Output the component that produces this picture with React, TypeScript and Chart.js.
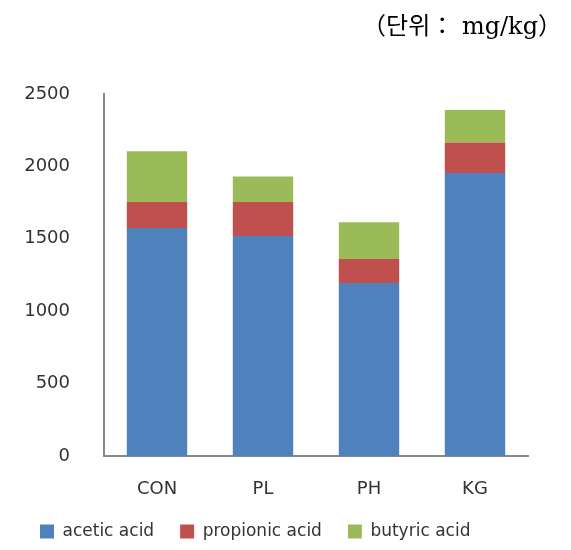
import React, { useEffect, useRef } from "react";
import { Chart, registerables } from "chart.js";

Chart.register(...registerables);

const categories = ["CON", "PL", "PH", "KG"];
const acetic = [1575, 1520, 1195, 1955];
const propionic = [180, 235, 165, 210];
const butyric = [350, 175, 255, 225];
const seriesNames = ["acetic acid", "propionic acid", "butyric acid"];
const yTicks = [0, 500, 1000, 1500, 2000, 2500];
const unitTitle = "（단위： mg/kg）";

const FONT = '"DejaVu Sans", "Noto Sans", sans-serif';

const titlePlugin = {
  id: "unitTitle",
  afterDraw(chart: any) {
    const ctx = chart.ctx;
    ctx.save();
    ctx.font = '24px "DejaVu Serif", "Noto Sans CJK KR", serif';
    ctx.fillStyle = "#000";
    ctx.textAlign = "right";
    ctx.textBaseline = "middle";
    ctx.fillText(unitTitle, 562, 28);
    ctx.restore();
  },
};

export default function App() {
  const ref = useRef<HTMLCanvasElement>(null);
  useEffect(() => {
    const chart = new Chart(ref.current!, {
      type: "bar",
      data: {
        labels: categories,
        datasets: [
          { label: seriesNames[0], data: acetic, backgroundColor: "#4F81BD" },
          { label: seriesNames[1], data: propionic, backgroundColor: "#C0504D" },
          { label: seriesNames[2], data: butyric, backgroundColor: "#9BBB59" },
        ],
      },
      options: {
        responsive: false,
        animation: false,
        layout: { padding: { left: 14, right: 43, top: 94, bottom: 0 } },
        datasets: { bar: { categoryPercentage: 1, barPercentage: 0.57 } },
        scales: {
          x: {
            stacked: true,
            grid: { display: false, drawTicks: false },
            border: { display: true, color: "#8a8a8a", width: 2 },
            ticks: { padding: 23, color: "#333", font: { family: FONT, size: 18 } },
            afterFit: (s: any) => {
              s.height = 41;
            },
          },
          y: {
            stacked: true,
            min: 0,
            max: 2500,
            afterBuildTicks: (s: any) => {
              s.ticks = yTicks.map((v) => ({ value: v }));
            },
            grid: { display: false, drawTicks: false },
            border: { display: true, color: "#8a8a8a", width: 2 },
            ticks: {
              padding: 34,
              color: "#333",
              font: { family: FONT, size: 18 },
              callback: (v: any) => String(v),
            },
            afterFit: (s: any) => {
              s.width = 90;
            },
          },
        },
        plugins: {
          title: { display: false },
          tooltip: { enabled: false },
          legend: {
            position: "bottom",
            align: "start",
            labels: {
              boxWidth: 14,
              boxHeight: 14,
              padding: 26,
              color: "#333",
              font: { family: FONT, size: 17 },
            },
          },
        },
      },
      plugins: [titlePlugin],
    });
    return () => chart.destroy();
  }, []);
  return (
    <div style={{ position: "absolute", left: 0, top: 0, width: 571, height: 550 }}>
      <canvas ref={ref} width={571} height={550} />
    </div>
  );
}
